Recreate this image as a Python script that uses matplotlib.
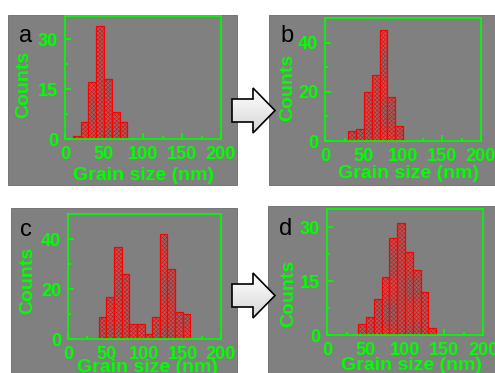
import numpy as np
import matplotlib.pyplot as plt
from matplotlib.patches import Rectangle, Polygon

# histogram data (bin left edges in nm, counts), bin width 10 nm
edges_a = [10, 20, 30, 40, 50, 60, 70]
counts_a = [1, 5, 17, 34, 18, 8, 5]

edges_b = [30, 40, 50, 60, 70, 80, 90]
counts_b = [4, 5, 20, 27, 45, 18, 6]

edges_c = [40, 50, 60, 70, 80, 90, 100, 110, 120, 130, 140, 150]
counts_c = [9, 17, 37, 26, 6, 6, 2, 9, 42, 28, 11, 10]

edges_d = [40, 50, 60, 70, 80, 90, 100, 110, 120, 130]
counts_d = [3, 5, 10, 16, 27, 31, 23, 18, 12, 2]

xticks = [0, 50, 100, 150, 200]

W, H = 495, 373
GREEN = '#00ff00'
GRAY = '#808080'

plt.rcParams['font.family'] = ['Liberation Sans', 'DejaVu Sans']
plt.rcParams['hatch.linewidth'] = 0.4
plt.rcParams['hatch.color'] = '#c84040'

fig = plt.figure(figsize=(W / 100, H / 100), dpi=100)
fig.patch.set_facecolor('white')


def fx(x):
    return x / W


def fy(y):
    return 1 - y / H


# gray panel backgrounds (pixel boxes x0, y0, x1, y1)
for x0, y0, x1, y1 in [(8, 15, 237, 185), (269, 15, 495, 185),
                       (11, 208, 237, 373), (268, 206, 495, 373)]:
    fig.patches.append(Rectangle((fx(x0), fy(y1)), fx(x1 - x0), (y1 - y0) / H,
                                 transform=fig.transFigure, facecolor=GRAY,
                                 edgecolor='#6a6a6a', lw=0.6, zorder=-5))


def panel(box, edges, counts, ylim, yticks, letter, letter_xy, counts_xy, grain_xy):
    x0, y0, x1, y1 = box
    ax = fig.add_axes([fx(x0), fy(y1), fx(x1 - x0), (y1 - y0) / H])
    ax.set_facecolor(GRAY)
    ax.bar(edges, counts, width=10, align='edge', facecolor='#8a6a6a',
           edgecolor='red', hatch='xxxxxxxx', linewidth=0.9, zorder=2)
    ax.set_xlim(0, 200)
    ax.set_ylim(*ylim)
    ax.set_xticks(xticks)
    ax.set_xticks([25, 75, 125, 175], minor=True)
    ax.set_yticks(yticks)
    ax.set_yticks([(yticks[0] + yticks[1]) / 2, (yticks[1] + yticks[2]) / 2], minor=True)
    for s in ax.spines.values():
        s.set_color(GREEN)
        s.set_linewidth(1.2)
    ax.tick_params(which='both', direction='in', colors=GREEN, width=1.2)
    ax.tick_params(which='major', length=4, labelsize=13, pad=5)
    ax.tick_params(which='minor', length=2.5)
    for lab in ax.get_xticklabels() + ax.get_yticklabels():
        lab.set_fontweight('bold')
    fig.text(fx(letter_xy[0]), fy(letter_xy[1]), letter, fontsize=17,
             ha='center', va='center', color='black')
    fig.text(fx(counts_xy[0]), fy(counts_xy[1]), 'Counts', fontsize=14,
             fontweight='bold', color=GREEN, rotation=90, ha='center', va='center')
    fig.text(fx(grain_xy[0]), fy(grain_xy[1]), 'Grain size (nm)', fontsize=14,
             fontweight='bold', color=GREEN, ha='center', va='center')
    return ax


panel((65, 16, 221, 139), edges_a, counts_a, (0, 37), [0, 15, 30], 'a',
      (26, 36), (24, 84), (143, 175))
panel((325, 18, 481, 141), edges_b, counts_b, (0, 50), [0, 20, 40], 'b',
      (287, 36), (288, 87), (408, 173))
panel((68, 214, 221, 339), edges_c, counts_c, (0, 50), [0, 20, 40], 'c',
      (26, 230), (28, 280), (147, 368))
panel((327, 209, 483, 335), edges_d, counts_d, (0, 35), [0, 15, 30], 'd',
      (286, 229), (289, 293), (411, 366))

# block arrows with a light gradient fill
axa = fig.add_axes([0, 0, 1, 1], facecolor='none')
for dy in [0, 185]:
    pts = [(232, 99 + dy), (253, 99 + dy), (253, 88 + dy), (275, 110.5 + dy),
           (253, 133 + dy), (253, 122 + dy), (232, 122 + dy)]
    grad = np.linspace(0, 1, 50).reshape(-1, 1)
    img = axa.imshow(grad, cmap='Greys', vmin=-0.1, vmax=3.8,
                     extent=(230, 277, 134 + dy, 87 + dy), aspect='auto', zorder=3)
    poly = Polygon(pts, closed=True, facecolor='none', edgecolor='black', lw=1.2, zorder=4)
    axa.add_patch(poly)
    img.set_clip_path(poly)
axa.set_xlim(0, W)
axa.set_ylim(H, 0)
axa.axis('off')

fig.savefig('out.png', dpi=100)
